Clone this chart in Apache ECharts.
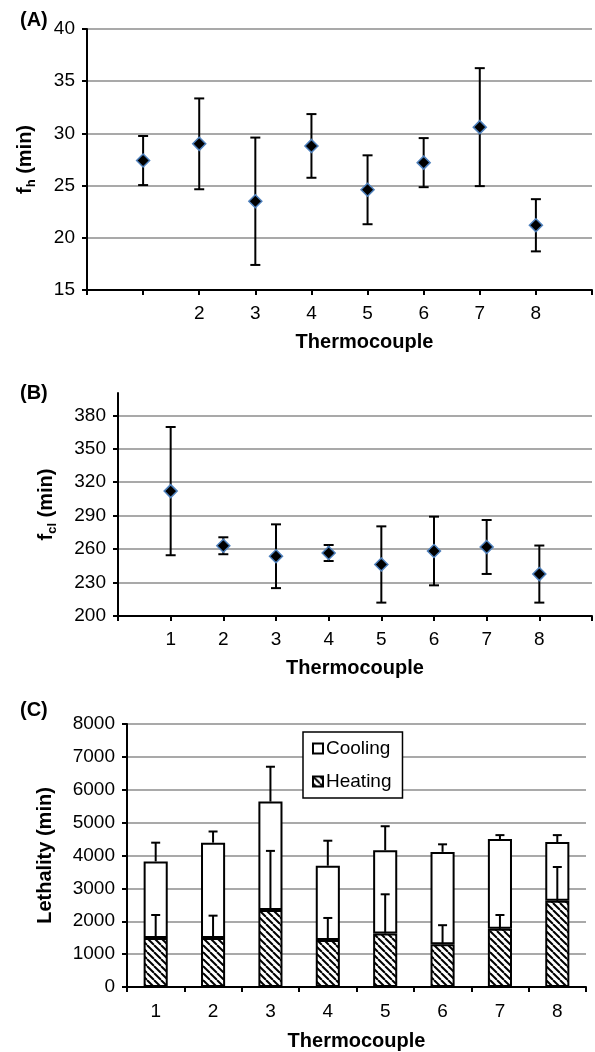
<!DOCTYPE html>
<html>
<head>
<meta charset="utf-8">
<script src="https://cdn.jsdelivr.net/npm/echarts@6/dist/echarts.min.js"></script>
<style>
html,body{margin:0;padding:0;background:#fff;}
#c{width:595px;height:1052px;}
</style>
</head>
<body>
<div id="c"></div>
<script>
// ---- Data ----
const thermocouples = [1, 2, 3, 4, 5, 6, 7, 8];
// Panel A: f_h (min), mean and standard deviation
const fhMean = [27.4, 29.0, 23.5, 28.8, 24.6, 27.2, 30.6, 21.2];
const fhSd   = [2.35, 4.35, 6.1, 3.05, 3.3, 2.35, 5.65, 2.5];
// Panel B: f_cl (min), mean and standard deviation
const fclMean = [312, 263, 253.6, 256.5, 246.2, 258.3, 261.9, 237.6];
const fclSd   = [57.5, 7.6, 28.6, 7.2, 34.2, 30.8, 24.2, 25.6];
// Panel C: lethality (min)
const lethCategories = ['1', '2', '3', '4', '5', '6', '7', '8'];
const heating = [1490, 1490, 2340, 1430, 1630, 1300, 1770, 2620];
const cooling = [2330, 2900, 3300, 2260, 2530, 2810, 2730, 1790];
const heatingErr = [700, 680, 1800, 670, 1190, 580, 420, 1030];
const totalErr = [570, 340, 1060, 760, 730, 230, 120, 210];
const xLabelsA = ['2', '3', '4', '5', '6', '7', '8'];
const xLabelsB = ['1', '2', '3', '4', '5', '6', '7', '8'];

const FONT = "'Liberation Sans', Arial, sans-serif";
const grid = '#8c8c8c';

// hatch pattern
const pc = document.createElement('canvas');
pc.width = 7; pc.height = 7;
const g = pc.getContext('2d');
g.fillStyle = '#fff'; g.fillRect(0, 0, 7, 7);
g.strokeStyle = '#000'; g.lineWidth = 2;
for (const k of [-7, 0, 7]) { g.beginPath(); g.moveTo(k, 0); g.lineTo(k + 7, 7); g.stroke(); }
const hatch = { image: pc, repeat: 'repeat' };

function errBar(cap, bothCaps) {
  return function (params, api) {
    const x = api.value(0), lo = api.value(1), hi = api.value(2);
    const p1 = api.coord([x, lo]), p2 = api.coord([x, hi]);
    const st = { stroke: '#000', lineWidth: 2 };
    const ch = [
      { type: 'line', shape: { x1: p1[0], y1: p1[1], x2: p2[0], y2: p2[1] }, style: st },
      { type: 'line', shape: { x1: p2[0] - cap, y1: p2[1], x2: p2[0] + cap, y2: p2[1] }, style: st }
    ];
    if (bothCaps) ch.push({ type: 'line', shape: { x1: p1[0] - cap, y1: p1[1], x2: p1[0] + cap, y2: p1[1] }, style: st });
    return { type: 'group', children: ch };
  };
}

function valueX(idx, labels, padLeft) {
  return {
    type: 'value', gridIndex: idx, min: 0, max: 9, interval: 1,
    name: 'Thermocouple', nameLocation: 'middle', nameGap: 42,
    nameTextStyle: { fontFamily: FONT, fontWeight: 'bold', fontSize: 20, color: '#000', padding: [0, 0, 0, padLeft] },
    axisLine: { lineStyle: { color: '#000', width: 2 } },
    axisTick: { show: true, length: 5, lineStyle: { color: '#000', width: 2 } },
    axisLabel: {
      fontFamily: FONT, fontSize: 19, color: '#000', margin: 14,
      formatter: v => labels.indexOf(String(v)) >= 0 ? String(v) : ''
    },
    splitLine: { show: false }
  };
}

const yCommon = {
  axisLine: { show: true, lineStyle: { color: '#000', width: 2 } },
  axisTick: { show: true, length: 5, lineStyle: { color: '#000', width: 2 } },
  splitLine: { show: true, showMinLine: false, lineStyle: { color: grid, width: 1.5 } }
};
const nameStyle = (gap) => ({
  nameLocation: 'middle', nameGap: gap, nameRotate: 90,
  nameTextStyle: {
    fontFamily: FONT, color: '#000',
    rich: {
      b: { fontFamily: FONT, fontWeight: 'bold', fontSize: 20, lineHeight: 26, color: '#000' },
      s: { fontFamily: FONT, fontWeight: 'bold', fontSize: 13, lineHeight: 13, verticalAlign: 'bottom', color: '#000' }
    }
  }
});
const plain = v => String(v);

const option = {
  animation: false,
  backgroundColor: '#fff',
  textStyle: { fontFamily: FONT },
  grid: [
    { left: 87, width: 507, top: 29, height: 261 },
    { left: 118, width: 476, top: 393, height: 223 },
    { left: 127, width: 459, top: 724, height: 265 }
  ],
  graphic: [
    { type: 'text', left: 20, top: 10, style: { text: '(A)', font: 'bold 20px ' + FONT, fill: '#000' } },
    { type: 'text', left: 20, top: 383, style: { text: '(B)', font: 'bold 20px ' + FONT, fill: '#000' } },
    { type: 'text', left: 20, top: 700, style: { text: '(C)', font: 'bold 20px ' + FONT, fill: '#000' } }
  ],
  legend: {
    data: ['Cooling', 'Heating'], orient: 'vertical', left: 303, top: 732,
    backgroundColor: '#fff', borderColor: '#000', borderWidth: 1.5,
    padding: [7, 11, 7, 9], itemGap: 14, itemWidth: 10, itemHeight: 10,
    icon: 'rect',
    textStyle: { fontFamily: FONT, fontSize: 19, color: '#000', padding: [0, 0, 0, -2] }
  },
  xAxis: [
    valueX(0, xLabelsA, 50),
    valueX(1, xLabelsB, 0),
    {
      type: 'category', gridIndex: 2, data: lethCategories,
      name: 'Thermocouple', nameLocation: 'middle', nameGap: 44,
      nameTextStyle: { fontFamily: FONT, fontWeight: 'bold', fontSize: 20, color: '#000' },
      axisLine: { lineStyle: { color: '#000', width: 2 } },
      axisTick: { show: true, length: 5, lineStyle: { color: '#000', width: 2 } },
      axisLabel: { fontFamily: FONT, fontSize: 19, color: '#000', margin: 15 }
    }
  ],
  yAxis: [
    Object.assign({
      type: 'value', gridIndex: 0, min: 15, max: 40, interval: 5,
      name: '{b|f}{s|h}{b| (min)}',
      axisLabel: { fontFamily: FONT, fontSize: 19, color: '#000', margin: 12, formatter: plain }
    }, yCommon, nameStyle(49)),
    Object.assign({
      type: 'value', gridIndex: 1, min: 200, max: 400, interval: 30,
      name: '{b|f}{s|cl}{b| (min)}',
      axisLabel: { fontFamily: FONT, fontSize: 19, color: '#000', margin: 12, showMaxLabel: false, formatter: plain }
    }, yCommon, { splitLine: { show: true, showMinLine: false, showMaxLine: false, lineStyle: { color: grid, width: 1.5 } } }, nameStyle(59)),
    Object.assign({
      type: 'value', gridIndex: 2, min: 0, max: 8000, interval: 1000,
      name: '{b|Lethality (min)}',
      axisLabel: { fontFamily: FONT, fontSize: 19, color: '#000', margin: 12, formatter: plain }
    }, yCommon, nameStyle(69))
  ],
  series: [
    {
      type: 'custom', xAxisIndex: 0, yAxisIndex: 0, z: 2,
      renderItem: errBar(5, true),
      data: thermocouples.map((t, i) => [t, fhMean[i] - fhSd[i], fhMean[i] + fhSd[i]])
    },
    {
      type: 'scatter', xAxisIndex: 0, yAxisIndex: 0, z: 3, symbol: 'diamond', symbolSize: 13,
      itemStyle: { color: '#000', borderColor: '#4f81bd', borderWidth: 1.5, opacity: 1 },
      data: thermocouples.map((t, i) => [t, fhMean[i]])
    },
    {
      type: 'custom', xAxisIndex: 1, yAxisIndex: 1, z: 2,
      renderItem: errBar(5, true),
      data: thermocouples.map((t, i) => [t, fclMean[i] - fclSd[i], fclMean[i] + fclSd[i]])
    },
    {
      type: 'scatter', xAxisIndex: 1, yAxisIndex: 1, z: 3, symbol: 'diamond', symbolSize: 13,
      itemStyle: { color: '#000', borderColor: '#4f81bd', borderWidth: 1.5, opacity: 1 },
      data: thermocouples.map((t, i) => [t, fclMean[i]])
    },
    {
      name: 'Heating', type: 'bar', xAxisIndex: 2, yAxisIndex: 2, stack: 'leth', barWidth: '42%',
      itemStyle: { color: hatch, borderColor: '#000', borderWidth: 2 },
      data: heating
    },
    {
      name: 'Cooling', type: 'bar', xAxisIndex: 2, yAxisIndex: 2, stack: 'leth', barWidth: '42%',
      itemStyle: { color: '#fff', borderColor: '#000', borderWidth: 2 },
      data: cooling
    },
    {
      type: 'custom', xAxisIndex: 2, yAxisIndex: 2, z: 5,
      renderItem: errBar(4.5, false),
      data: heating.map((h, i) => [i, h, h + heatingErr[i]])
    },
    {
      type: 'custom', xAxisIndex: 2, yAxisIndex: 2, z: 5,
      renderItem: errBar(4.5, false),
      data: heating.map((h, i) => [i, h + cooling[i], h + cooling[i] + totalErr[i]])
    }
  ]
};
const chart = echarts.init(document.getElementById('c'), null, { renderer: 'canvas' });
chart.setOption(option);
</script>
</body>
</html>
